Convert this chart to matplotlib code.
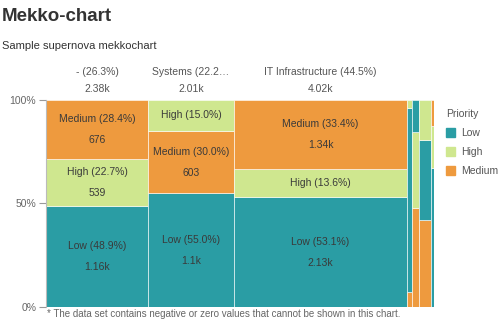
import numpy as np
import matplotlib
matplotlib.use("Agg")
import matplotlib.pyplot as plt
from matplotlib.patches import Patch

plt.rcParams["font.family"] = ["Liberation Sans", "DejaVu Sans"]

# datos: columnas (ancho = total) y prioridades
columns = ["-", "Systems", "IT Infrastructure", "", "", "", ""]
priorities = ["Low", "High", "Medium"]
low = [1162, 1105, 2133, 113, 24, 112, 43]
high = [539, 302, 545, 5, 57, 56, 13]
medium = [676, 603, 1342, 9, 74, 122, 8]
# orden de apilado (de abajo hacia arriba) por columna
stack_order = [
    ["Low", "High", "Medium"],
    ["Low", "Medium", "High"],
    ["Low", "High", "Medium"],
    ["Medium", "Low", "High"],
    ["Medium", "High", "Low"],
    ["Medium", "Low", "High"],
    ["Low", "High", "Medium"],
]

colors = {"Low": "#2a9da4", "High": "#cfe78f", "Medium": "#ee9a3e"}
values = {"Low": low, "High": high, "Medium": medium}


def fmt(v):
    if v >= 1000:
        return f"{v / 1000:.3g}k"
    return f"{v:.0f}"


totals = np.array(low) + np.array(high) + np.array(medium)
widths = totals / totals.sum()
lefts = np.concatenate([[0], np.cumsum(widths)[:-1]])

fig = plt.figure(figsize=(5, 3.33), dpi=100)
ax = fig.add_axes([0.092, 0.078, 0.776, 0.622])

for i, col in enumerate(columns):
    bottom = 0.0
    for p in stack_order[i]:
        h = values[p][i] / totals[i]
        ax.bar(lefts[i], h, width=widths[i], bottom=bottom, align="edge",
               color=colors[p], edgecolor="white", linewidth=0.4)
        if widths[i] > 0.1 and h > 0.1:
            cx = lefts[i] + widths[i] / 2
            cy = bottom + h / 2
            label = f"{p} ({h * 100:.1f}%)"
            if h > 0.2:
                ax.text(cx, cy + 0.05, label, ha="center", va="center",
                        fontsize=7.5, color="#3a3a3a")
                ax.text(cx, cy - 0.052, fmt(values[p][i]), ha="center",
                        va="center", fontsize=7.5, color="#3a3a3a")
            else:
                ax.text(cx, cy, label, ha="center", va="center",
                        fontsize=7.5, color="#3a3a3a")
        bottom += h

    # encabezados de columna
    if widths[i] > 0.1:
        head = f"{col} ({widths[i] * 100:.1f}%)"
        max_chars = int(widths[i] * 100 * 0.62)
        if len(head) > max_chars:
            head = head[:max_chars] + "…"
        cx = lefts[i] + widths[i] / 2
        ax.text(cx, 1.135, head, ha="center", va="center", fontsize=7.5,
                color="#555555", clip_on=False)
        ax.text(cx, 1.053, fmt(totals[i]), ha="center", va="center",
                fontsize=7.5, color="#555555", clip_on=False)

ax.set_xlim(0, 1)
ax.set_ylim(0, 1)
ax.set_xticks([])
ax.set_yticks([0, 0.5, 1])
ax.set_yticklabels(["0%", "50%", "100%"])
ax.tick_params(axis="y", length=5, color="#999999", labelcolor="#666666",
               labelsize=7.5, pad=2)
for s in ["top", "right", "bottom"]:
    ax.spines[s].set_visible(False)
ax.spines["left"].set_color("#bbbbbb")
ax.spines["left"].set_linewidth(0.8)

fig.text(0.004, 0.95, "Mekko-chart", fontsize=13.5, fontweight="bold",
         color="#333333", va="center")
fig.text(0.004, 0.862, "Sample supernova mekkochart", fontsize=8,
         color="#333333", va="center")
fig.text(0.094, 0.058, "* The data set contains negative or zero values that cannot be shown in this chart.",
         fontsize=7, color="#666666", va="center")

handles = [Patch(color=colors[p], label=p) for p in priorities]
leg = ax.legend(handles=handles, title="Priority", loc="upper left",
                bbox_to_anchor=(1.02, 0.975), frameon=False, fontsize=7.5,
                title_fontsize=7.5, handlelength=0.9, handleheight=0.9,
                handletextpad=0.6, labelspacing=0.85, borderaxespad=0)
leg._legend_box.align = "left"
plt.setp(leg.get_texts(), color="#555555")
leg.get_title().set_color("#555555")

fig.savefig("out.png", dpi=100)
